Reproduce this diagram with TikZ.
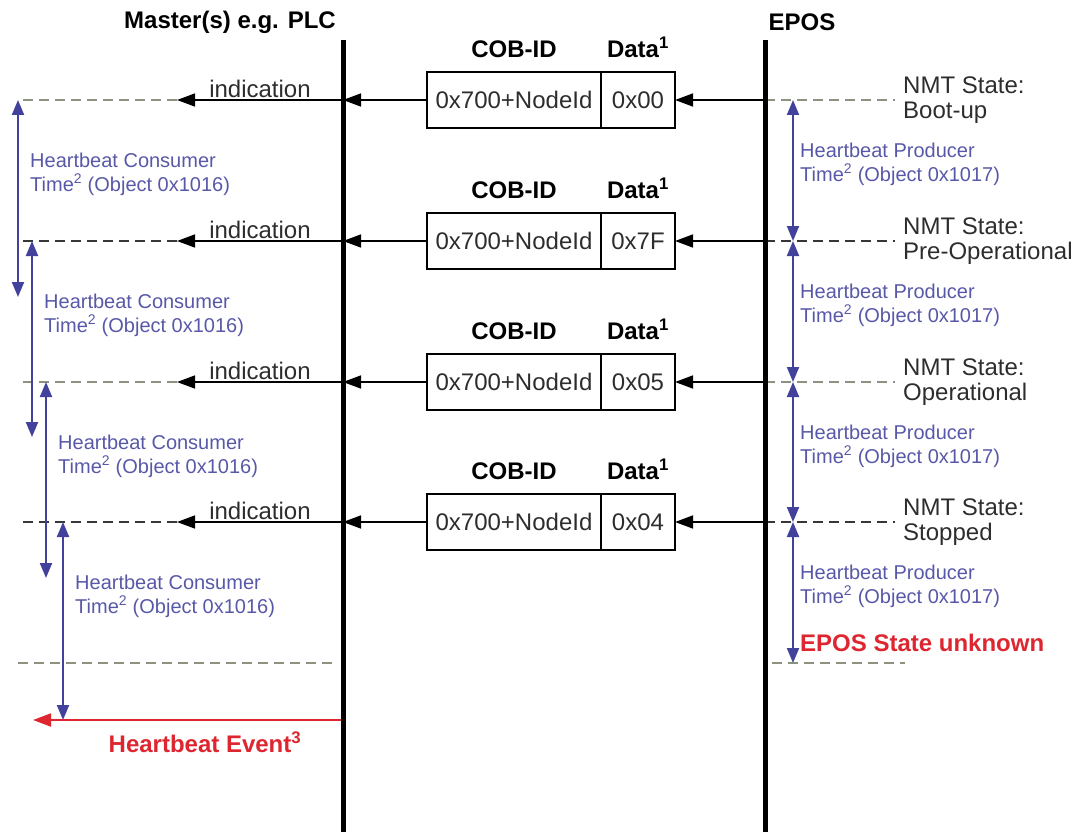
\documentclass[tikz,border=0pt]{standalone}
\usepackage{fontspec}
\setmainfont{Liberation Sans}
\usetikzlibrary{arrows.meta,positioning,calc}
\definecolor{hbblue}{RGB}{66,66,156}
\definecolor{hbtext}{RGB}{88,88,168}
\definecolor{evred}{RGB}{222,38,48}
\definecolor{dashgreen}{RGB}{140,148,128}
\definecolor{dashdark}{RGB}{55,55,55}
\definecolor{txtgray}{RGB}{45,45,45}

\begin{document}
\begin{tikzpicture}[
  x=1pt, y=-1pt,
  every node/.style={inner sep=0pt, text=txtgray},
  big/.style={font=\fontsize{24}{25}\selectfont},
  title/.style={font=\fontsize{24}{26}\selectfont\bfseries, text=black},
  cobbox/.style={draw, line width=1.4pt, outer sep=0pt, minimum height=56pt, big},
  lifeline/.style={line width=5pt},
  msg/.style={-{Triangle[length=18pt,width=13pt]}, line width=1.5pt},
  hbtime/.style={{Triangle[length=15pt,width=12pt]}-{Triangle[length=15pt,width=12pt]},
                 line width=2pt, draw=hbblue},
  hblabel/.style={align=left, anchor=west, text=hbtext, font=\fontsize{20}{24}\selectfont},
  nmt/.style={align=left, anchor=west, big},
  gdash/.style={dash pattern=on 10pt off 6pt, line width=1.5pt, draw=dashgreen},
  kdash/.style={dash pattern=on 10pt off 6pt, line width=1.5pt, draw=dashdark},
  redtext/.style={font=\fontsize{24}{26}\selectfont\bfseries, text=evred},
]
\useasboundingbox (0,0) rectangle (1079,832);

% Titles and lifelines
\node[title] (mst) at (230,22) {Master(s) e.g. PLC};
\node[title] (eps) at (802,22) {EPOS};
\coordinate (mtop) at (343,40);
\coordinate (mbot) at (343,832);
\coordinate (etop) at (765,40);
\coordinate (ebot) at (765,832);

% Row coordinates
\foreach \i/\y in {1/100,2/241,3/382,4/522} {
  \coordinate (m\i) at (343,\y);
  \coordinate (e\i) at (765,\y);
  \coordinate (i\i) at (177,\y);
  \coordinate (l\i) at (18,\y);
  \coordinate (r\i) at (895,\y);
}

% Row 1: Boot-up
\node[cobbox, minimum width=174pt] (cob1) at (514,100) {0x700+NodeId};
\node[cobbox, minimum width=74pt, right=0pt of cob1] (dat1) {0x00};
\node[title, above=14pt of cob1] (cobl1) {COB-ID};
\node[title, above=14pt of dat1] (datl1) {Data\textsuperscript{1}};
\draw[msg] (e1) -- (dat1);
\draw[msg] (cob1) -- (m1);
\draw[msg] (m1) -- (i1) node[midway, above=2pt, big] (ind1) {indication};
\draw[gdash] (i1) -- (l1);
\draw[gdash] (e1) -- (r1);
\node[nmt] (nmt1) at (903,100) {NMT State:\\Boot-up};

% Row 2: Pre-Operational
\node[cobbox, minimum width=174pt] (cob2) at (514,241) {0x700+NodeId};
\node[cobbox, minimum width=74pt, right=0pt of cob2] (dat2) {0x7F};
\node[title, above=14pt of cob2] (cobl2) {COB-ID};
\node[title, above=14pt of dat2] (datl2) {Data\textsuperscript{1}};
\draw[msg] (e2) -- (dat2);
\draw[msg] (cob2) -- (m2);
\draw[msg] (m2) -- (i2) node[midway, above=2pt, big] (ind2) {indication};
\draw[kdash] (i2) -- (l2);
\draw[kdash] (e2) -- (r2);
\node[nmt] (nmt2) at (903,241) {NMT State:\\Pre-Operational};

% Row 3: Operational
\node[cobbox, minimum width=174pt] (cob3) at (514,382) {0x700+NodeId};
\node[cobbox, minimum width=74pt, right=0pt of cob3] (dat3) {0x05};
\node[title, above=14pt of cob3] (cobl3) {COB-ID};
\node[title, above=14pt of dat3] (datl3) {Data\textsuperscript{1}};
\draw[msg] (e3) -- (dat3);
\draw[msg] (cob3) -- (m3);
\draw[msg] (m3) -- (i3) node[midway, above=2pt, big] (ind3) {indication};
\draw[gdash] (i3) -- (l3);
\draw[gdash] (e3) -- (r3);
\node[nmt] (nmt3) at (903,382) {NMT State:\\Operational};

% Row 4: Stopped
\node[cobbox, minimum width=174pt] (cob4) at (514,522) {0x700+NodeId};
\node[cobbox, minimum width=74pt, right=0pt of cob4] (dat4) {0x04};
\node[title, above=14pt of cob4] (cobl4) {COB-ID};
\node[title, above=14pt of dat4] (datl4) {Data\textsuperscript{1}};
\draw[msg] (e4) -- (dat4);
\draw[msg] (cob4) -- (m4);
\draw[msg] (m4) -- (i4) node[midway, above=2pt, big] (ind4) {indication};
\draw[kdash] (i4) -- (l4);
\draw[kdash] (e4) -- (r4);
\node[nmt] (nmt4) at (903,522) {NMT State:\\Stopped};

% Timeout line
\coordinate (l5) at (18,663);
\coordinate (m5) at (335,663);
\coordinate (e5) at (772,663);
\coordinate (r5) at (905,663);
\draw[gdash] (l5) -- (m5);
\draw[gdash] (e5) -- (r5);

% Consumer times (master side)
\foreach \i/\x/\ya/\yb in {1/18/100/297, 2/32/241/437, 3/46/382/578, 4/63/522/720} {
  \coordinate (ct\i) at (\x,\ya);
  \coordinate (cb\i) at (\x,\yb);
  \draw[hbtime] (ct\i) -- (cb\i);
  \node[hblabel] (hc\i) at (\x+12,\ya+74) {Heartbeat Consumer\\Time\textsuperscript{2} (Object 0x1016)};
}

% Producer times (EPOS side)
\foreach \i/\ya/\yb in {1/100/241, 2/241/382, 3/382/522, 4/522/663} {
  \coordinate (pt\i) at (793,\ya);
  \coordinate (pb\i) at (793,\yb);
  \draw[hbtime] (pt\i) -- (pb\i);
  \node[hblabel] (hp\i) at (800,\ya+64) {Heartbeat Producer\\Time\textsuperscript{2} (Object 0x1017)};
}

% Results
\node[redtext, anchor=west] (unk) at (800,643) {EPOS State unknown};
\coordinate (ev1) at (343,720);
\coordinate (ev2) at (33,720);
\draw[-{Triangle[length=18pt,width=13pt]}, line width=2pt, draw=evred] (ev1) -- (ev2);
\node[redtext] (hbev) at (205,742) {Heartbeat Event\textsuperscript{3}};

\draw[lifeline] (mtop) -- (mbot);
\draw[lifeline] (etop) -- (ebot);
\end{tikzpicture}
\end{document}
